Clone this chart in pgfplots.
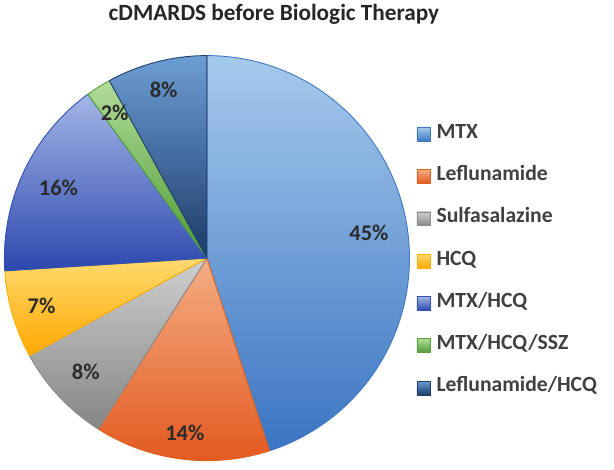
\documentclass[border=0pt]{standalone}
\usepackage{pgfplots}
\pgfplotsset{compat=1.18}
\usepackage{pgfplotstable}
\usepackage{fontspec}
\setmainfont{Carlito}

\definecolor{c1t}{HTML}{A6CAEC}\definecolor{c1b}{HTML}{3A74C2}\definecolor{c1d}{HTML}{3F78C4}
\definecolor{c2t}{HTML}{F4AE84}\definecolor{c2b}{HTML}{E2561C}\definecolor{c2d}{HTML}{E0621E}
\definecolor{c3t}{HTML}{CFCFCF}\definecolor{c3b}{HTML}{858585}\definecolor{c3d}{HTML}{8A8A8A}
\definecolor{c4t}{HTML}{FFDA6E}\definecolor{c4b}{HTML}{FFA800}\definecolor{c4d}{HTML}{FFB000}
\definecolor{c5t}{HTML}{A3B6E6}\definecolor{c5b}{HTML}{2C48AE}\definecolor{c5d}{HTML}{3050B6}
\definecolor{c6t}{HTML}{B0DC98}\definecolor{c6b}{HTML}{4F9A34}\definecolor{c6d}{HTML}{56A03A}
\definecolor{c7t}{HTML}{6C9ED4}\definecolor{c7b}{HTML}{1C3A68}\definecolor{c7d}{HTML}{1F3F70}
\definecolor{titlegray}{HTML}{262626}
\definecolor{labgray}{HTML}{2B2B2B}
\definecolor{leggray}{HTML}{404040}

% category, share (%), gradient top, gradient bottom, border, label radius
\pgfplotstableread{
name value top bottom line lr
MTX 45 c1t c1b c1d 0.81
Leflunamide 14 c2t c2b c2d 0.87
Sulfasalazine 8 c3t c3b c3d 0.82
HCQ 7 c4t c4b c4d 0.85
MTX/HCQ 16 c5t c5b c5d 0.81
MTX/HCQ/SSZ 2 c6t c6b c6d 0.85
Leflunamide/HCQ 8 c7t c7b c7d 0.86
}\piedata

\begin{document}
\begin{tikzpicture}[x=1pt,y=1pt]
\path (0,0) rectangle (614,464);
\begin{axis}[
  at={(0pt,0pt)}, anchor=south west,
  scale only axis, width=408pt, height=408pt,
  xmin=-1, xmax=1, ymin=-1, ymax=1,
  axis lines=none, clip=false,
  title={cDMARDS before Biologic Therapy},
  title style={at={(rel axis cs:0.6654,1.072)}, anchor=base, text=titlegray, inner sep=0pt,
    font=\fontsize{23.4}{26}\selectfont\bfseries},
  legend cell align=left,
  legend style={at={(rel axis cs:1.017,0.826)}, anchor=north west, draw=none, fill=none,
    font=\fontsize{21.8}{24}\selectfont\bfseries, text=leggray,
    row sep=26.6pt, inner sep=0pt,
    nodes={inner sep=0pt, text height=12pt, text depth=4pt},
    /tikz/every odd column/.append style={column sep=5.5pt}},
  legend image code/.code={\draw[#1, line width=0.6pt] (0pt,-7pt) rectangle (14pt,7pt);},
]
\def\cum{0}
\pgfplotsforeachungrouped \i in {0,...,6}{%
  \pgfplotstablegetelem{\i}{value}\of\piedata \let\vstr\pgfplotsretval
  \pgfplotstablegetelem{\i}{top}\of\piedata \let\tc\pgfplotsretval
  \pgfplotstablegetelem{\i}{bottom}\of\piedata \let\bc\pgfplotsretval
  \pgfplotstablegetelem{\i}{line}\of\piedata \let\lc\pgfplotsretval
  \pgfplotstablegetelem{\i}{name}\of\piedata \let\nm\pgfplotsretval
  \pgfmathsetmacro\sa{90-3.6*\cum}%
  \pgfmathsetmacro\ea{90-3.6*(\cum+\vstr)}%
  \edef\cmd{%
    \noexpand\draw[draw=\lc, line width=0.9pt, line join=round, top color=\tc, bottom color=\bc]
      (axis cs:0,0) -- (axis cs:{cos(\sa)},{sin(\sa)}) arc[start angle=\sa, end angle=\ea, radius=204pt] -- cycle;
    \noexpand\addlegendimage{draw=\lc, top color=\tc, bottom color=\bc}%
    \noexpand\addlegendentry{\nm}%
  }%
  \cmd
  \pgfmathsetmacro\cum{\cum+\vstr}%
}
\def\cum{0}
\pgfplotsforeachungrouped \i in {0,...,6}{%
  \pgfplotstablegetelem{\i}{value}\of\piedata \let\vstr\pgfplotsretval
  \pgfplotstablegetelem{\i}{lr}\of\piedata \let\lrad\pgfplotsretval
  \pgfmathsetmacro\ma{90-3.6*(\cum+\vstr/2)}%
  \edef\cmd{%
    \noexpand\node[font=\noexpand\fontsize{22.6}{24}\noexpand\selectfont\noexpand\bfseries, text=labgray]
      at (axis cs:{\lrad*cos(\ma)},{\lrad*sin(\ma)}) {\vstr\noexpand\%};
  }%
  \cmd
  \pgfmathsetmacro\cum{\cum+\vstr}%
}
\end{axis}
\end{tikzpicture}
\end{document}
